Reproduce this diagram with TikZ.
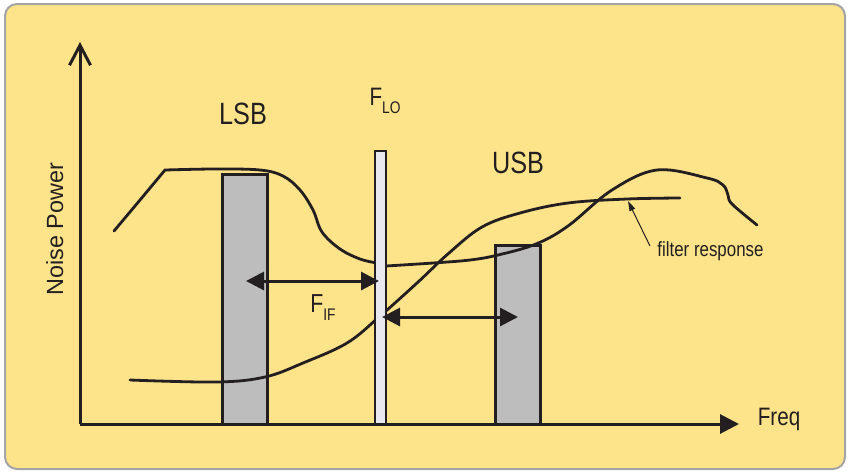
\documentclass[tikz,border=0pt]{standalone}
\usepackage{fontspec}
\setsansfont{Liberation Sans}
\newfontfamily\condsans[FakeStretch=0.82]{Liberation Sans}
\usepackage{tikz}
\usetikzlibrary{arrows.meta,positioning}
\definecolor{panelyellow}{HTML}{FDE38A}
\definecolor{panelrim}{HTML}{A4A4A4}
\definecolor{bandgray}{HTML}{BDBDBD}
\definecolor{lobar}{HTML}{E8E8EE}
\definecolor{inkblack}{HTML}{231F20}
\newcommand{\fsz}[1]{\fontsize{#1}{#1}\selectfont}

\begin{document}
\begin{tikzpicture}[
  x=0.5pt,y=-0.5pt,
  band/.style={draw=inkblack,line width=1.5pt,fill=bandgray},
  curve/.style={draw=inkblack,line width=1.4pt,line cap=round},
  axis/.style={draw=inkblack,line width=1.5pt},
  span/.style={{Triangle[length=9pt,width=9pt]}-{Triangle[length=9pt,width=9pt]},draw=inkblack,fill=inkblack,line width=1.5pt},
  lbl/.style={inner sep=0pt,anchor=base,text=inkblack}
]
\useasboundingbox (0,0) rectangle (849,472);
\draw[fill=panelyellow,draw=panelrim,line width=1pt,rounded corners=6pt] (5,4) rectangle (845,469);

% sideband boxes
\draw[band] (222,424) rectangle (267,174);
\draw[band] (495,424) rectangle (540,245);

% noise power curve
\draw[curve] plot[smooth,tension=0.5] coordinates {(114,231) (140,200) (165,170)}
  -- plot[smooth,tension=0.6] coordinates {(165,170) (215,169) (260,170) (283,176) (300,190) (313,210) (322,232) (340,249) (360,259) (377,263)};
\draw[curve] plot[smooth,tension=0.6] coordinates {(386,266) (433,263) (470,260) (498,255) (536,244) (568,226) (612,190) (657,170) (707,178) (723,185) (728,195) (732,204) (757,225)};

% filter response
\draw[curve] plot[smooth,tension=0.6] coordinates {(130,380) (217,382) (265,377) (303,363) (347,343) (379,317) (417,283) (449,253) (482,227) (520,213) (568,203) (627,199) (680,198)};

% LO line
\draw[draw=inkblack,line width=1.4pt,fill=lobar] (375,424) rectangle (386,151);

% axes
\coordinate (orig) at (80,424);
\coordinate (ytop) at (80,42);
\coordinate (xend) at (739,424);
\draw[axis,-{Straight Barb[length=10pt,width=10.5pt,line width=1.5pt]}] (orig) -- (ytop);
\draw[axis,-{Triangle[length=9.5pt,width=9.5pt]},fill=inkblack] (orig) -- (xend);

% IF spans
\coordinate (lsbif) at (246,281);
\coordinate (loleft) at (379,281);
\coordinate (loright) at (382,317);
\coordinate (usbif) at (518,317);
\draw[span] (lsbif) -- (loleft);
\draw[span] (loright) -- (usbif);

% labels
\node[lbl] (lsb) at (243,124) {\condsans\fsz{15.4}LSB};
\node[lbl] (usb) at (518,173) {\condsans\fsz{15.4}USB};
\node[lbl] (flo) at (385,105) {\condsans\fsz{12.6}F\raisebox{-4pt}{\fsz{8.4}LO}};
\node[lbl] (fif) at (323,312) {\condsans\fsz{13}F\raisebox{-4pt}{\fsz{8.4}IF}};
\node[lbl] (freq) at (779,425) {\condsans\fsz{12.6}Freq};
\node[lbl,rotate=90] (noise) at (63,229) {\sffamily\fsz{11.7}Noise Power};
\node[lbl,anchor=base west] (filt) at (657,256) {\condsans\fsz{10.3}filter response};
\coordinate (filttip) at (628,201);
\draw[inkblack,line width=0.5pt,-{Triangle[length=5pt,width=3pt]}] (650,246) -- (filttip);
\end{tikzpicture}
\end{document}
